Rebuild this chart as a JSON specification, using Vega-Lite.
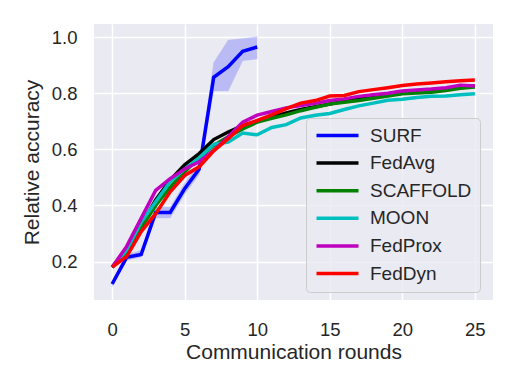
{
  "$schema": "https://vega.github.io/schema/vega-lite/v6.json",
  "width": 399,
  "height": 276,
  "autosize": {"type": "none"},
  "padding": {"left": 94, "top": 24, "right": 22, "bottom": 86},
  "background": "white",
  "config": {
    "view": {"fill": "#eaeaf2", "stroke": null},
    "font": "Liberation Sans",
    "axis": {
      "domain": false, "ticks": false, "gridColor": "white", "gridWidth": 1.5,
      "labelFont": "Liberation Sans", "labelFontSize": 18.5, "labelColor": "#262626",
      "titleFont": "Liberation Sans", "titleFontSize": 21, "titleFontWeight": "normal", "titleColor": "#262626"
    }
  },
  "datasets": {
    "band": [
      {"r": 0, "lo": 0.11, "hi": 0.13},
      {"r": 1, "lo": 0.205, "hi": 0.225},
      {"r": 2, "lo": 0.215, "hi": 0.24},
      {"r": 3, "lo": 0.355, "hi": 0.395},
      {"r": 4, "lo": 0.355, "hi": 0.395},
      {"r": 5, "lo": 0.44, "hi": 0.48},
      {"r": 6, "lo": 0.51, "hi": 0.55},
      {"r": 7, "lo": 0.808, "hi": 0.91},
      {"r": 8, "lo": 0.808, "hi": 0.99},
      {"r": 9, "lo": 0.916, "hi": 0.995},
      {"r": 10, "lo": 0.922, "hi": 1.002}
    ],
    "lines": [
      {"m": "SURF", "r": 0, "a": 0.12}, {"m": "SURF", "r": 1, "a": 0.215}, {"m": "SURF", "r": 2, "a": 0.225}, {"m": "SURF", "r": 3, "a": 0.375}, {"m": "SURF", "r": 4, "a": 0.375}, {"m": "SURF", "r": 5, "a": 0.46}, {"m": "SURF", "r": 6, "a": 0.53}, {"m": "SURF", "r": 7, "a": 0.857}, {"m": "SURF", "r": 8, "a": 0.895}, {"m": "SURF", "r": 9, "a": 0.95}, {"m": "SURF", "r": 10, "a": 0.965},
      {"m": "FedAvg", "r": 0, "a": 0.18}, {"m": "FedAvg", "r": 1, "a": 0.24}, {"m": "FedAvg", "r": 2, "a": 0.33}, {"m": "FedAvg", "r": 3, "a": 0.42}, {"m": "FedAvg", "r": 4, "a": 0.49}, {"m": "FedAvg", "r": 5, "a": 0.545}, {"m": "FedAvg", "r": 6, "a": 0.585}, {"m": "FedAvg", "r": 7, "a": 0.635}, {"m": "FedAvg", "r": 8, "a": 0.662}, {"m": "FedAvg", "r": 9, "a": 0.685}, {"m": "FedAvg", "r": 10, "a": 0.7}, {"m": "FedAvg", "r": 11, "a": 0.715}, {"m": "FedAvg", "r": 12, "a": 0.73}, {"m": "FedAvg", "r": 13, "a": 0.742}, {"m": "FedAvg", "r": 14, "a": 0.752}, {"m": "FedAvg", "r": 15, "a": 0.762}, {"m": "FedAvg", "r": 16, "a": 0.772}, {"m": "FedAvg", "r": 17, "a": 0.78}, {"m": "FedAvg", "r": 18, "a": 0.788}, {"m": "FedAvg", "r": 19, "a": 0.795}, {"m": "FedAvg", "r": 20, "a": 0.8}, {"m": "FedAvg", "r": 21, "a": 0.806}, {"m": "FedAvg", "r": 22, "a": 0.81}, {"m": "FedAvg", "r": 23, "a": 0.815}, {"m": "FedAvg", "r": 24, "a": 0.82}, {"m": "FedAvg", "r": 25, "a": 0.826},
      {"m": "SCAFFOLD", "r": 0, "a": 0.18}, {"m": "SCAFFOLD", "r": 1, "a": 0.235}, {"m": "SCAFFOLD", "r": 2, "a": 0.32}, {"m": "SCAFFOLD", "r": 3, "a": 0.4}, {"m": "SCAFFOLD", "r": 4, "a": 0.465}, {"m": "SCAFFOLD", "r": 5, "a": 0.52}, {"m": "SCAFFOLD", "r": 6, "a": 0.57}, {"m": "SCAFFOLD", "r": 7, "a": 0.614}, {"m": "SCAFFOLD", "r": 8, "a": 0.645}, {"m": "SCAFFOLD", "r": 9, "a": 0.673}, {"m": "SCAFFOLD", "r": 10, "a": 0.697}, {"m": "SCAFFOLD", "r": 11, "a": 0.711}, {"m": "SCAFFOLD", "r": 12, "a": 0.723}, {"m": "SCAFFOLD", "r": 13, "a": 0.738}, {"m": "SCAFFOLD", "r": 14, "a": 0.75}, {"m": "SCAFFOLD", "r": 15, "a": 0.762}, {"m": "SCAFFOLD", "r": 16, "a": 0.768}, {"m": "SCAFFOLD", "r": 17, "a": 0.774}, {"m": "SCAFFOLD", "r": 18, "a": 0.782}, {"m": "SCAFFOLD", "r": 19, "a": 0.79}, {"m": "SCAFFOLD", "r": 20, "a": 0.798}, {"m": "SCAFFOLD", "r": 21, "a": 0.801}, {"m": "SCAFFOLD", "r": 22, "a": 0.804}, {"m": "SCAFFOLD", "r": 23, "a": 0.81}, {"m": "SCAFFOLD", "r": 24, "a": 0.818}, {"m": "SCAFFOLD", "r": 25, "a": 0.822},
      {"m": "MOON", "r": 0, "a": 0.18}, {"m": "MOON", "r": 1, "a": 0.24}, {"m": "MOON", "r": 2, "a": 0.34}, {"m": "MOON", "r": 3, "a": 0.413}, {"m": "MOON", "r": 4, "a": 0.485}, {"m": "MOON", "r": 5, "a": 0.53}, {"m": "MOON", "r": 6, "a": 0.57}, {"m": "MOON", "r": 7, "a": 0.618}, {"m": "MOON", "r": 8, "a": 0.626}, {"m": "MOON", "r": 9, "a": 0.658}, {"m": "MOON", "r": 10, "a": 0.652}, {"m": "MOON", "r": 11, "a": 0.678}, {"m": "MOON", "r": 12, "a": 0.688}, {"m": "MOON", "r": 13, "a": 0.712}, {"m": "MOON", "r": 14, "a": 0.722}, {"m": "MOON", "r": 15, "a": 0.728}, {"m": "MOON", "r": 16, "a": 0.742}, {"m": "MOON", "r": 17, "a": 0.755}, {"m": "MOON", "r": 18, "a": 0.765}, {"m": "MOON", "r": 19, "a": 0.775}, {"m": "MOON", "r": 20, "a": 0.779}, {"m": "MOON", "r": 21, "a": 0.785}, {"m": "MOON", "r": 22, "a": 0.789}, {"m": "MOON", "r": 23, "a": 0.79}, {"m": "MOON", "r": 24, "a": 0.795}, {"m": "MOON", "r": 25, "a": 0.798},
      {"m": "FedProx", "r": 0, "a": 0.18}, {"m": "FedProx", "r": 1, "a": 0.254}, {"m": "FedProx", "r": 2, "a": 0.354}, {"m": "FedProx", "r": 3, "a": 0.454}, {"m": "FedProx", "r": 4, "a": 0.496}, {"m": "FedProx", "r": 5, "a": 0.53}, {"m": "FedProx", "r": 6, "a": 0.556}, {"m": "FedProx", "r": 7, "a": 0.596}, {"m": "FedProx", "r": 8, "a": 0.645}, {"m": "FedProx", "r": 9, "a": 0.697}, {"m": "FedProx", "r": 10, "a": 0.722}, {"m": "FedProx", "r": 11, "a": 0.735}, {"m": "FedProx", "r": 12, "a": 0.748}, {"m": "FedProx", "r": 13, "a": 0.756}, {"m": "FedProx", "r": 14, "a": 0.764}, {"m": "FedProx", "r": 15, "a": 0.774}, {"m": "FedProx", "r": 16, "a": 0.78}, {"m": "FedProx", "r": 17, "a": 0.789}, {"m": "FedProx", "r": 18, "a": 0.795}, {"m": "FedProx", "r": 19, "a": 0.8}, {"m": "FedProx", "r": 20, "a": 0.808}, {"m": "FedProx", "r": 21, "a": 0.812}, {"m": "FedProx", "r": 22, "a": 0.815}, {"m": "FedProx", "r": 23, "a": 0.82}, {"m": "FedProx", "r": 24, "a": 0.829}, {"m": "FedProx", "r": 25, "a": 0.826},
      {"m": "FedDyn", "r": 0, "a": 0.18}, {"m": "FedDyn", "r": 1, "a": 0.218}, {"m": "FedDyn", "r": 2, "a": 0.307}, {"m": "FedDyn", "r": 3, "a": 0.371}, {"m": "FedDyn", "r": 4, "a": 0.449}, {"m": "FedDyn", "r": 5, "a": 0.507}, {"m": "FedDyn", "r": 6, "a": 0.538}, {"m": "FedDyn", "r": 7, "a": 0.595}, {"m": "FedDyn", "r": 8, "a": 0.638}, {"m": "FedDyn", "r": 9, "a": 0.685}, {"m": "FedDyn", "r": 10, "a": 0.703}, {"m": "FedDyn", "r": 11, "a": 0.723}, {"m": "FedDyn", "r": 12, "a": 0.745}, {"m": "FedDyn", "r": 13, "a": 0.765}, {"m": "FedDyn", "r": 14, "a": 0.774}, {"m": "FedDyn", "r": 15, "a": 0.79}, {"m": "FedDyn", "r": 16, "a": 0.792}, {"m": "FedDyn", "r": 17, "a": 0.806}, {"m": "FedDyn", "r": 18, "a": 0.813}, {"m": "FedDyn", "r": 19, "a": 0.82}, {"m": "FedDyn", "r": 20, "a": 0.828}, {"m": "FedDyn", "r": 21, "a": 0.833}, {"m": "FedDyn", "r": 22, "a": 0.837}, {"m": "FedDyn", "r": 23, "a": 0.841}, {"m": "FedDyn", "r": 24, "a": 0.845}, {"m": "FedDyn", "r": 25, "a": 0.847}
    ]
  },
  "layer": [
    {
      "data": {"name": "band"},
      "mark": {"type": "area", "color": "#0000ff", "opacity": 0.2, "stroke": "#0000ff", "strokeOpacity": 0.25, "strokeWidth": 1},
      "encoding": {
        "x": {"field": "r", "type": "quantitative", "scale": {"domain": [-1.25, 26.25], "nice": false, "zero": false},
              "axis": {"values": [0, 5, 10, 15, 20, 25], "title": "Communication rounds", "labelPadding": 20, "titlePadding": 3}},
        "y": {"field": "lo", "type": "quantitative", "scale": {"domain": [0.063, 1.047], "nice": false, "zero": false},
              "axis": {"values": [0.2, 0.4, 0.6, 0.8, 1.0], "format": ".1f", "title": "Relative accuracy", "labelPadding": 17, "titlePadding": 9}},
        "y2": {"field": "hi"}
      }
    },
    {
      "data": {"name": "lines"},
      "mark": {"type": "line", "strokeWidth": 3.5},
      "encoding": {
        "x": {"field": "r", "type": "quantitative"},
        "y": {"field": "a", "type": "quantitative"},
        "color": {
          "field": "m", "type": "nominal",
          "scale": {"domain": ["SURF", "FedAvg", "SCAFFOLD", "MOON", "FedProx", "FedDyn"],
                    "range": ["#0000ff", "#000000", "#008000", "#00bfbf", "#bf00bf", "#ff0000"]},
          "legend": {
            "title": null, "orient": "none", "legendX": 212, "legendY": 94,
            "symbolType": "M-1,0H5", "symbolSize": 196, "symbolStrokeWidth": 3.5,
            "labelFontSize": 19, "labelColor": "#262626", "labelFont": "Liberation Sans",
            "rowPadding": 7.6, "padding": 8, "labelOffset": 37,
            "fillColor": "rgba(234,234,242,0.8)", "strokeColor": "#cccccc", "cornerRadius": 4
          }
        }
      }
    }
  ]
}
